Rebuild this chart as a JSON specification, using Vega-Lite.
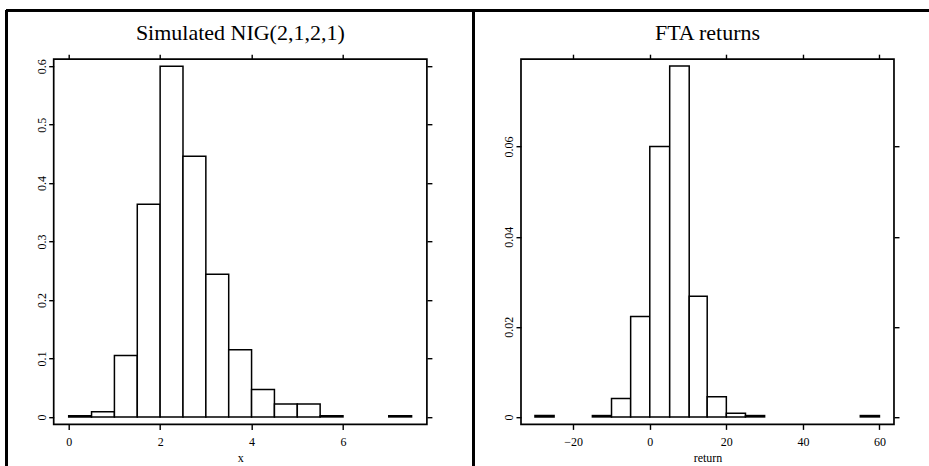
{
  "$schema": "https://vega.github.io/schema/vega-lite/v6.json",
  "usermeta": {"embedOptions": {"actions": false}},
  "autosize": {"type": "pad"},
  "padding": {"left": 4.7, "top": 7.2, "right": 0, "bottom": 0},
  "background": "white",
  "bounds": "flush",
  "spacing": 93.3,
  "config": {
    "font": "Liberation Serif",
    "view": {"stroke": "black", "strokeWidth": 1.7},
    "axis": {"domain": false, "grid": false, "tickColor": "black", "tickWidth": 1.4, "tickSize": 5,
      "labelFont": "Liberation Serif", "labelFontSize": 12, "labelColor": "black",
      "titleFont": "Liberation Serif", "titleFontSize": 12, "titleFontWeight": "normal", "titleColor": "black"},
    "title": {"font": "Liberation Serif", "fontSize": 22, "fontWeight": "normal", "color": "black", "anchor": "middle", "frame": "group", "baseline": "alphabetic", "offset": -36}
  },
  "datasets": {
    "nig": [
      {"start": 0, "end": 0.5, "density": 0.002},
      {"start": 0.5, "end": 1, "density": 0.009},
      {"start": 1, "end": 1.5, "density": 0.105},
      {"start": 1.5, "end": 2, "density": 0.364},
      {"start": 2, "end": 2.5, "density": 0.6},
      {"start": 2.5, "end": 3, "density": 0.446},
      {"start": 3, "end": 3.5, "density": 0.244},
      {"start": 3.5, "end": 4, "density": 0.115},
      {"start": 4, "end": 4.5, "density": 0.047},
      {"start": 4.5, "end": 5, "density": 0.022},
      {"start": 5, "end": 5.5, "density": 0.022},
      {"start": 5.5, "end": 6, "density": 0.002},
      {"start": 7, "end": 7.5, "density": 0.002}
    ],
    "fta": [
      {"start": -30, "end": -25, "density": 0.0003},
      {"start": -15, "end": -10, "density": 0.0003},
      {"start": -10, "end": -5, "density": 0.0041},
      {"start": -5, "end": 0, "density": 0.0223},
      {"start": 0, "end": 5.2, "density": 0.060},
      {"start": 5.2, "end": 10.3, "density": 0.0779},
      {"start": 10.3, "end": 15, "density": 0.0268},
      {"start": 15, "end": 20, "density": 0.0045},
      {"start": 20, "end": 25, "density": 0.0008},
      {"start": 25, "end": 30, "density": 0.0003},
      {"start": 55, "end": 60, "density": 0.0003}
    ]
  },
  "hconcat": [
    {
      "width": 373.2,
      "height": 365.2,
      "title": "Simulated NIG(2,1,2,1)",
      "data": {"name": "nig"},
      "layer": [
        {
          "mark": {"type": "bar", "fill": "white", "stroke": "black", "strokeWidth": 1.5},
          "encoding": {
            "x": {"field": "start", "type": "quantitative",
              "scale": {"domain": [-0.328, 7.835], "nice": false, "zero": false},
              "axis": {"values": [0, 2, 4, 6], "format": "d", "title": "x", "labelPadding": 7, "titlePadding": 5}},
            "x2": {"field": "end"},
            "y": {"field": "density", "type": "quantitative",
              "scale": {"domain": [-0.0128, 0.612], "nice": false, "zero": false},
              "axis": {"values": [0, 0.1, 0.2, 0.3, 0.4, 0.5, 0.6], "format": ".1~f", "title": null,
                "labelAngle": 270, "labelAlign": "center", "labelBaseline": "alphabetic", "labelPadding": 3}},
            "y2": {"datum": 0}
          }
        },
        {
          "mark": {"type": "point", "opacity": 0},
          "encoding": {
            "x": {"field": "start", "type": "quantitative",
              "axis": {"orient": "top", "values": [0, 2, 4, 6], "labels": false, "title": null}},
            "y": {"field": "density", "type": "quantitative",
              "axis": {"orient": "right", "values": [0, 0.1, 0.2, 0.3, 0.4, 0.5, 0.6], "labels": false, "title": null}}
          }
        },
        {
          "mark": {"type": "rule", "stroke": "black", "strokeWidth": 2.3},
          "encoding": {
            "x": {"datum": -1.356, "axis": null},
            "y": {"datum": 0.696, "axis": null},
            "y2": {"datum": -0.12}
          }
        },
        {
          "mark": {"type": "rule", "stroke": "black", "strokeWidth": 2.3},
          "encoding": {
            "x": {"datum": -1.356, "axis": null},
            "x2": {"datum": 8.854},
            "y": {"datum": 0.696, "axis": null}
          }
        },
        {
          "mark": {"type": "rule", "stroke": "black", "strokeWidth": 2.3},
          "encoding": {
            "x": {"datum": 8.854, "axis": null},
            "y": {"datum": 0.696, "axis": null},
            "y2": {"datum": -0.12}
          }
        }
      ],
      "resolve": {"axis": {"x": "independent", "y": "independent"}}
    },
    {
      "width": 373,
      "height": 365.2,
      "title": "FTA returns",
      "data": {"name": "fta"},
      "layer": [
        {
          "mark": {"type": "bar", "fill": "white", "stroke": "black", "strokeWidth": 1.5},
          "encoding": {
            "x": {"field": "start", "type": "quantitative",
              "scale": {"domain": [-33.65, 63.8], "nice": false, "zero": false},
              "axis": {"values": [-20, 0, 20, 40, 60], "format": "d", "title": "return", "labelPadding": 7, "titlePadding": 5}},
            "x2": {"field": "end"},
            "y": {"field": "density", "type": "quantitative",
              "scale": {"domain": [-0.00166, 0.0794], "nice": false, "zero": false},
              "axis": {"values": [0, 0.02, 0.04, 0.06], "format": ".2~f", "title": null,
                "labelAngle": 270, "labelAlign": "center", "labelBaseline": "alphabetic", "labelPadding": 3}},
            "y2": {"datum": 0}
          }
        },
        {
          "mark": {"type": "point", "opacity": 0},
          "encoding": {
            "x": {"field": "start", "type": "quantitative",
              "axis": {"orient": "top", "values": [-20, 0, 20, 40, 60], "labels": false, "title": null}},
            "y": {"field": "density", "type": "quantitative",
              "axis": {"orient": "right", "values": [0, 0.02, 0.04, 0.06], "labels": false, "title": null}}
          }
        },
        {
          "mark": {"type": "rule", "stroke": "black", "strokeWidth": 2.3},
          "encoding": {
            "x": {"datum": -45.9, "axis": null},
            "x2": {"datum": 76},
            "y": {"datum": 0.0902, "axis": null}
          }
        }
      ],
      "resolve": {"axis": {"x": "independent", "y": "independent"}}
    }
  ]
}
